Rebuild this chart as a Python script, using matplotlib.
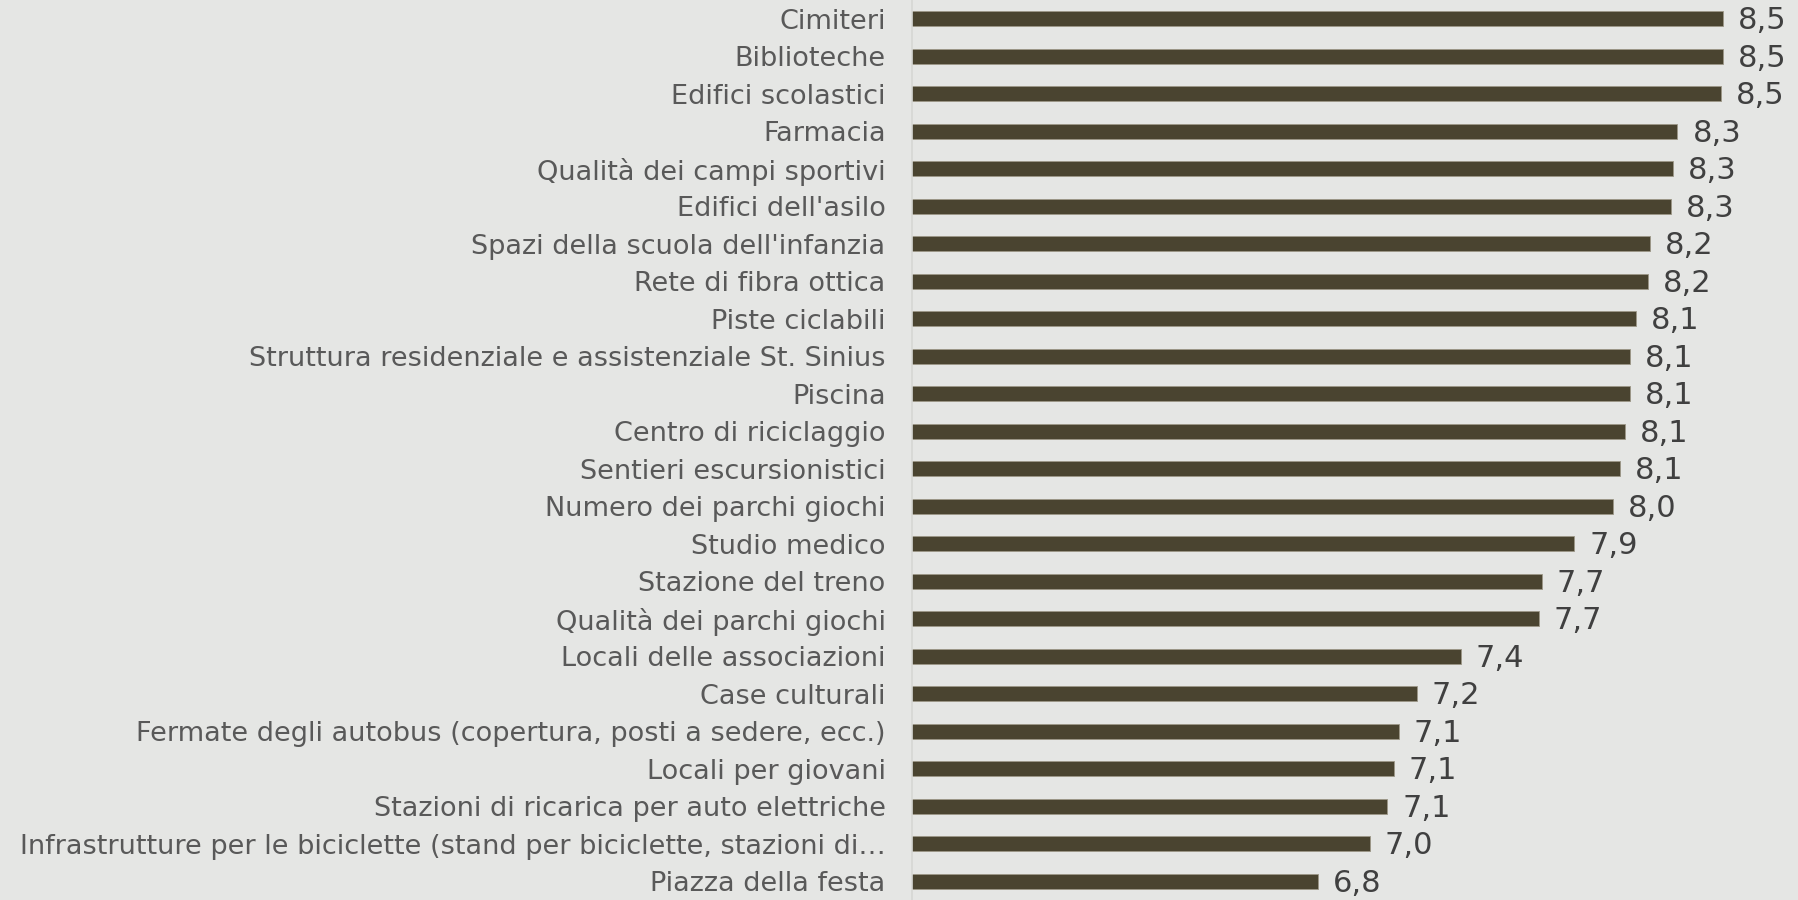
import matplotlib
matplotlib.use('Agg')
import matplotlib.pyplot as plt

labels = [
    'Cimiteri',
    'Biblioteche',
    'Edifici scolastici',
    'Farmacia',
    'Qualità dei campi sportivi',
    "Edifici dell'asilo",
    "Spazi della scuola dell'infanzia",
    'Rete di fibra ottica',
    'Piste ciclabili',
    'Struttura residenziale e assistenziale St. Sinius',
    'Piscina',
    'Centro di riciclaggio',
    'Sentieri escursionistici',
    'Numero dei parchi giochi',
    'Studio medico',
    'Stazione del treno',
    'Qualità dei parchi giochi',
    'Locali delle associazioni',
    'Case culturali',
    'Fermate degli autobus (copertura, posti a sedere, ecc.)',
    'Locali per giovani',
    'Stazioni di ricarica per auto elettriche',
    'Infrastrutture per le biciclette (stand per biciclette, stazioni di…',
    'Piazza della festa',
]
values = [8.525, 8.525, 8.515, 8.325, 8.305, 8.295, 8.205, 8.195, 8.145,
          8.12, 8.12, 8.095, 8.075, 8.045, 7.875, 7.735, 7.72, 7.38,
          7.19, 7.11, 7.09, 7.06, 6.985, 6.76]

bg = '#e5e6e4'
bar_col = '#4a4430'

fig = plt.figure(figsize=(17.98, 9.0), dpi=100, facecolor=bg)
ax = fig.add_axes([912 / 1798, 0, 1 - 912 / 1798, 1])
ax.set_facecolor(bg)

ypos = list(range(len(labels)))
ax.barh(ypos, values, height=0.41, left=0, color=bar_col,
        edgecolor='#9c9787', linewidth=0.6)
ax.set_xlim(4.99, 8.85)
ax.set_ylim(len(labels) - 0.5, -0.5)

# value labels with decimal comma
for y, v in zip(ypos, values):
    ax.text(v + 0.065, y + 0.05, f'{v:.1f}'.replace('.', ','), va='center',
            ha='left', fontsize=22, color='#404040')

ax.set_yticks(ypos)
ax.set_yticklabels(labels, fontsize=19.5, color='#595959')
ax.tick_params(axis='y', length=0, pad=19)
ax.set_xticks([])
for s in ['top', 'right', 'bottom']:
    ax.spines[s].set_visible(False)
ax.spines['left'].set_color('#d6d7d4')
ax.spines['left'].set_linewidth(1.2)

plt.savefig('out.png', dpi=100, facecolor=bg)
